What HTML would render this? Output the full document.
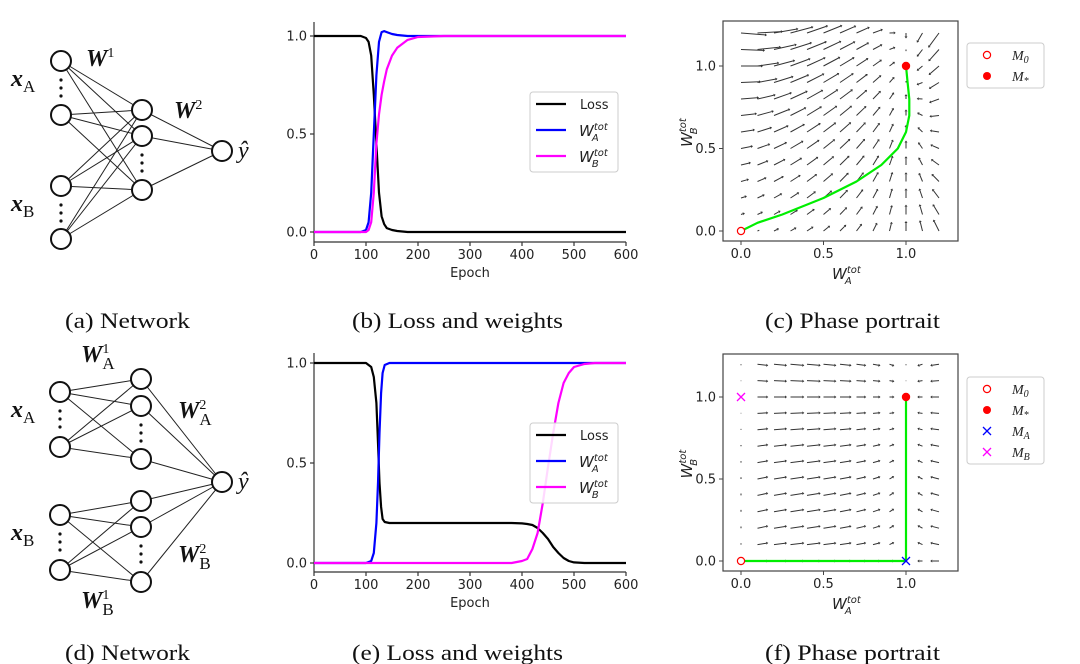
<!DOCTYPE html>
<html><head><meta charset="utf-8"><style>
body{margin:0;background:#fff;}
svg{display:block;}
.tk{font-family:"DejaVu Sans","Liberation Sans",sans-serif;font-size:13px;fill:#222;}
.cap{font-family:"Liberation Serif",serif;font-size:22px;fill:#111;}
.lbl{font-family:"Liberation Serif",serif;font-weight:bold;font-style:italic;fill:#111;}
</style></head><body>
<svg id="fig" width="1080" height="664" viewBox="0 0 1080 664" xmlns="http://www.w3.org/2000/svg">
<g id="netA"></g>
<g id="netD"></g>
<g id="chartB"></g>
<g id="chartE"></g>
<g id="phaseC"></g>
<g id="phaseF"></g>
<text class="cap" x="65" y="328" textLength="125" lengthAdjust="spacingAndGlyphs">(a) Network</text>
<text class="cap" x="352" y="328" textLength="211" lengthAdjust="spacingAndGlyphs">(b) Loss and weights</text>
<text class="cap" x="765" y="328" textLength="175" lengthAdjust="spacingAndGlyphs">(c) Phase portrait</text>
<text class="cap" x="65" y="660" textLength="125" lengthAdjust="spacingAndGlyphs">(d) Network</text>
<text class="cap" x="352" y="660" textLength="211" lengthAdjust="spacingAndGlyphs">(e) Loss and weights</text>
<text class="cap" x="765" y="660" textLength="175" lengthAdjust="spacingAndGlyphs">(f) Phase portrait</text>
</svg>
<script>
// ---- data: chart b ----
const epochsB = [0,90,100,105,110,115,120,125,130,135,140,150,160,180,200,250,600];
const lossB   = [1,1,0.99,0.97,0.9,0.7,0.45,0.2,0.08,0.04,0.02,0.01,0.005,0,0,0,0];
const wAB     = [0,0,0.01,0.05,0.2,0.5,0.8,0.97,1.02,1.025,1.02,1.01,1.005,1,1,1,1];
const wBB     = [0,0,0,0.01,0.05,0.2,0.45,0.6,0.7,0.77,0.83,0.9,0.94,0.98,0.995,1,1];
// ---- data: chart e ----
const epochsE = [0,100,110,115,120,123,126,129,132,136,145,380,400,410,420,430,440,450,460,470,480,490,500,520,540,600];
const lossE   = [1,1,0.98,0.93,0.8,0.6,0.4,0.28,0.22,0.205,0.2,0.2,0.198,0.195,0.19,0.175,0.15,0.12,0.08,0.05,0.025,0.01,0.003,0,0,0];
const wAE     = [0,0,0.01,0.05,0.2,0.4,0.65,0.85,0.95,0.99,1,1,1,1,1,1,1,1,1,1,1,1,1,1,1,1];
const wBE     = [0,0,0,0,0,0,0,0,0,0,0,0,0.01,0.02,0.07,0.15,0.3,0.48,0.65,0.8,0.9,0.95,0.98,0.995,1,1];
const xTicks = [0,100,200,300,400,500,600];
const yTicks = [0,0.5,1.0];
const yTickLabels = ["0.0","0.5","1.0"];
const phaseTicks = [0,0.5,1.0];
// phase trajectories
const trajCA = [0,0.1,0.25,0.5,0.7,0.85,0.95,1.0,1.02,1.02,1.01,1.0];
const trajCB = [0,0.05,0.1,0.2,0.3,0.4,0.5,0.6,0.7,0.8,0.9,1.0];
const trajFA = [0,1,1];
const trajFB = [0,0,1];
const gridVals = [0,0.1,0.2,0.3,0.4,0.5,0.6,0.7,0.8,0.9,1.0,1.1,1.2];

const NS="http://www.w3.org/2000/svg";
function mk(parent,tag,attrs,text){const e=document.createElementNS(NS,tag);for(const k in attrs)e.setAttribute(k,attrs[k]);if(text!==undefined)e.textContent=text;parent.appendChild(e);return e;}

// ---------- networks ----------
function network(g,inputs,hiddenGroups,out,conn){
  const lines=mk(g,'g',{stroke:'#222','stroke-width':1});
  conn.forEach(([ins,hs])=>{ins.forEach(i=>hs.forEach(h=>{
    const l=mk(lines,'line',{x1:i[0],y1:i[1],x2:h[0],y2:h[1]});
    
    
  }));});
  hiddenGroups.flat().forEach(h=>{
    const l=mk(lines,'line',{x1:h[0],y1:h[1],x2:out[0],y2:out[1]});
    
    
  });
  inputs.concat(hiddenGroups.flat(),[out]).forEach(p=>{
    const c=mk(g,'circle',{cx:p[0],cy:p[1],r:10,fill:'#fff',stroke:'#111','stroke-width':2});
    
    
  });
}
function dots(g,x,y1,y2){for(let i=0;i<3;i++){const c=mk(g,'circle',{cx:x,cy:y1+(y2-y1)*i/2,r:1.6,fill:'#111'});}}
function lab(g,x,y,main,sub,sup,name,size){
  const t=mk(g,'text',{x:x,y:y,class:'lbl','font-size':size||24});
  
  
  mk(t,'tspan',{},main);
  if(sup)mk(t,'tspan',{dy:-9,'font-size':14,'font-style':'normal','font-weight':'normal'},sup);
  if(sub)mk(t,'tspan',{dx:sup?-7:0,dy:sup?16:6,'font-size':17,'font-style':'normal','font-weight':'normal'},sub);
  return t;
}
(function(){
  const g=document.getElementById('netA');
  const ins=[[61,61],[61,115],[61,186],[61,239]];
  const hid=[[142,110],[142,136],[142,190]];
  network(g,ins,[hid],[222,151],[[ins,hid]]);
  dots(g,61,80,96);dots(g,61,205,221);dots(g,142,155,171);
  lab(g,11,86,'x','A',null,'input-label-xa');
  lab(g,11,211,'x','B',null,'input-label-xb');
  lab(g,86,66,'W',null,'1','weight-label-w1');
  lab(g,174,118,'W',null,'2','weight-label-w2');
  const y=mk(g,'text',{x:238,y:158,'font-family':'Liberation Serif,serif','font-style':'italic','font-size':24,fill:'#111'},'ŷ');
  
})();
(function(){
  const g=document.getElementById('netD');
  const insA=[[60,392],[60,447]],insB=[[60,515],[60,570]];
  const hA=[[141,379],[141,406],[141,459]],hB=[[141,501],[141,527],[141,582]];
  network(g,insA.concat(insB),[hA,hB],[222,482],[[insA,hA],[insB,hB]]);
  dots(g,60,411,427);dots(g,60,534,550);dots(g,141,425,441);dots(g,141,546,562);
  lab(g,11,417,'x','A',null,'input-label-xa');
  lab(g,11,540,'x','B',null,'input-label-xb');
  lab(g,81,362,'W','A','1','weight-label-w1a');
  lab(g,178,418,'W','A','2','weight-label-w2a');
  lab(g,178,562,'W','B','2','weight-label-w2b');
  lab(g,81,608,'W','B','1','weight-label-w1b');
  const y=mk(g,'text',{x:238,y:489,'font-family':'Liberation Serif,serif','font-style':'italic','font-size':24,fill:'#111'},'ŷ');
  
})();

// ---------- time series ----------
function wlab(g,x,y,sub){
  const t=mk(g,'text',{x:x,y:y,'font-family':'DejaVu Sans,sans-serif','font-style':'italic','font-size':15,fill:'#222'});
  mk(t,'tspan',{},'W');mk(t,'tspan',{dy:-6,'font-size':10},'tot');mk(t,'tspan',{dx:-16,dy:11,'font-size':10},sub);
  return t;
}
function series(gid,ep,loss,wa,wb,y0,y1,bottom,top,legTop){
  const g=document.getElementById(gid);
  const L=314,R=626;
  const sx=v=>L+(v-0)/600*(R-L);
  const sy=v=>y0+(y1-y0)*v;
  const ax=mk(g,'g',{stroke:'#333','stroke-width':1.2});
  mk(ax,'line',{x1:L,y1:top,x2:L,y2:bottom});
  mk(ax,'line',{x1:L,y1:bottom,x2:R,y2:bottom});
  xTicks.forEach(t=>{
    const l=mk(ax,'line',{x1:sx(t),y1:bottom,x2:sx(t),y2:bottom+4});
    
    const tx=mk(g,'text',{x:sx(t),y:bottom+17,'text-anchor':'middle',class:'tk'},String(t));
    
  });
  yTicks.forEach((t,i)=>{
    const l=mk(ax,'line',{x1:L-4,y1:sy(t),x2:L,y2:sy(t)});
    
    const tx=mk(g,'text',{x:L-7,y:sy(t)+4.5,'text-anchor':'end',class:'tk'},yTickLabels[i]);
    
  });
  const xt=mk(g,'text',{x:(L+R)/2,y:bottom+35,'text-anchor':'middle',class:'tk'},'Epoch');
  
  [[loss,'#000','loss-line'],[wa,'#0000ff','wa-line'],[wb,'#ff00ff','wb-line']].forEach(([arr,c,n])=>{
    const d=arr.map((v,i)=>(i?'L':'M')+sx(ep[i]).toFixed(1)+','+sy(v).toFixed(1)).join(' ');
    const p=mk(g,'path',{d:d,fill:'none',stroke:c,'stroke-width':2.2,'stroke-linejoin':'round'});
    
  });
  const lg=mk(g,'g',{});
  
  mk(lg,'rect',{x:530,y:legTop,width:88,height:80,rx:3,fill:'#fff','fill-opacity':0.85,stroke:'#ccc'});
  [['#000','Loss'],['#0000ff','A'],['#ff00ff','B']].forEach(([c,t],i)=>{
    const yy=legTop+12+i*26;
    const l=mk(lg,'line',{x1:536,y1:yy,x2:566,y2:yy,stroke:c,'stroke-width':2.2});
    
    if(t==='Loss'){mk(lg,'text',{x:580,y:yy+5,class:'tk','font-size':14},'Loss');}
    else wlab(lg,579,yy+6,t);
  });
}
series('chartB',epochsB,lossB,wAB,wBB,232,36,242,22,92);
series('chartE',epochsE,lossE,wAE,wBE,563,363,572,353,423);

// ---------- phase portraits ----------
function phase(gid,y0,y1,top,bottom,field,scale,ta,tb,extra,legTop){
  const g=document.getElementById(gid);
  const x0=741,x1=906;
  const sx=v=>x0+(x1-x0)*v, sy=v=>y0+(y1-y0)*v;
  const fr=mk(g,'rect',{x:723,y:top,width:235,height:bottom-top,fill:'none',stroke:'#444','stroke-width':1.2});
  
  phaseTicks.forEach(t=>{
    mk(g,'line',{x1:sx(t),y1:bottom,x2:sx(t),y2:bottom+4,stroke:'#444'});
    const a=mk(g,'text',{x:sx(t),y:bottom+17,'text-anchor':'middle',class:'tk'},t.toFixed(1));
    
    mk(g,'line',{x1:723-4,y1:sy(t),x2:723,y2:sy(t),stroke:'#444'});
    const b=mk(g,'text',{x:716,y:sy(t)+4.5,'text-anchor':'end',class:'tk'},t.toFixed(1));
    
  });
  const xt=wlab(g,832,bottom+38,'A');
  
  const ytg=mk(g,'g',{transform:`translate(${692},${(top+bottom)/2+16}) rotate(-90)`});
  const yt=wlab(ytg,0,0,'B');
  
  const q=mk(g,'g',{stroke:'#333','stroke-width':1,fill:'#333'});
  gridVals.forEach(a=>gridVals.forEach(b=>{
    const [da,db]=field(a,b);
    const px=sx(a),py=sy(b);
    const ex=px+da*scale,ey=py-db*scale;
    const l=mk(q,'line',{x1:px,y1:py,x2:ex,y2:ey});
    
    const len=Math.hypot(ex-px,ey-py);
    if(len>2){const ux=(ex-px)/len,uy=(ey-py)/len;
      mk(q,'path',{d:`M${ex+ux*2},${ey+uy*2} L${ex-uy*1.5},${ey+ux*1.5} L${ex+uy*1.5},${ey-ux*1.5}Z`,stroke:'none'});}
  }));
  const d=ta.map((v,i)=>(i?'L':'M')+sx(v).toFixed(1)+','+sy(tb[i]).toFixed(1)).join(' ');
  const p=mk(g,'path',{d:d,fill:'none',stroke:'#00ee00','stroke-width':2.2,'stroke-linejoin':'round'});
  
  const m0=mk(g,'circle',{cx:sx(0),cy:sy(0),r:3.6,fill:'#fff',stroke:'#ff0000','stroke-width':1.2});
  
  const ms=mk(g,'circle',{cx:sx(1),cy:sy(1),r:4.2,fill:'#ff0000'});
  
  const entries=[['o','0'],['f','*']];
  if(extra){
    [[1,0,'#0000ff','marker-ma'],[0,1,'#ff00ff','marker-mb']].forEach(([a,b,c,n])=>{
      const x=mk(g,'path',{d:`M${sx(a)-4},${sy(b)-4}L${sx(a)+4},${sy(b)+4}M${sx(a)-4},${sy(b)+4}L${sx(a)+4},${sy(b)-4}`,stroke:c,'stroke-width':1.3});
      
    });
    entries.push(['xb','A'],['xm','B']);
  }
  const lg=mk(g,'g',{});
  
  mk(lg,'rect',{x:967,y:legTop,width:77,height:entries.length*21+3,rx:3,fill:'#fff',stroke:'#ccc'});
  entries.forEach(([k,s],i)=>{
    const yy=legTop+12+i*21,cx=987;
    if(k==='o')mk(lg,'circle',{cx:cx,cy:yy,r:3.6,fill:'#fff',stroke:'#f00','stroke-width':1.2});
    if(k==='f')mk(lg,'circle',{cx:cx,cy:yy,r:4,fill:'#f00'});
    if(k[0]==='x')mk(lg,'path',{d:`M${cx-4},${yy-4}L${cx+4},${yy+4}M${cx-4},${yy+4}L${cx+4},${yy-4}`,stroke:k==='xb'?'#00f':'#f0f','stroke-width':1.3});
    const t=mk(lg,'text',{x:1012,y:yy+5,'font-family':'Liberation Serif,serif','font-style':'italic','font-size':14,fill:'#222'});
    
    mk(t,'tspan',{},'M');mk(t,'tspan',{dy:3,'font-size':10},s);
  });
}
phase('phaseC',231,66,21,241,(a,b)=>{const s=a+b;return [(1-a)*s,(1-b)*s*0.4+(1-a)*a*b*1.6];},20,trajCA,trajCB,false,43);
phase('phaseF',561,397,354,571,(a,b)=>[Math.sqrt(a)*(1-a)*2.2,Math.sqrt(b)*(1-b)*0.35],14,trajFA,trajFB,true,377);
</script>
</body></html>
